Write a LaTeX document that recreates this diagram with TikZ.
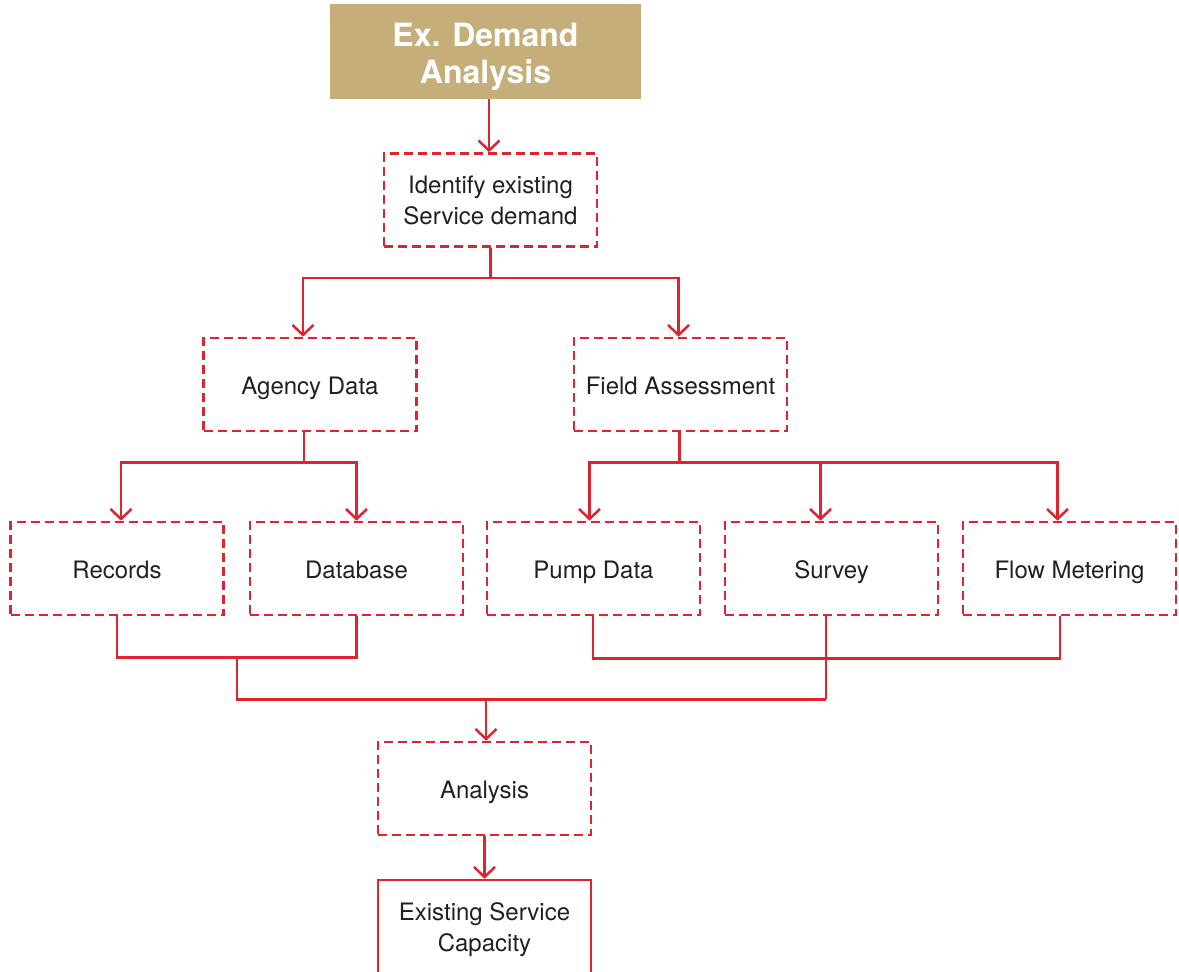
\documentclass[tikz,border=0pt]{standalone}
\usepackage{fontspec}
\setmainfont{TeX Gyre Heros}
\usetikzlibrary{arrows.meta,calc}
\definecolor{flowred}{HTML}{E0242F}
\definecolor{tan}{HTML}{C6AE7A}
\definecolor{txt}{HTML}{231F20}
\tikzset{
  box/.style={draw=flowred, line width=2.6pt, minimum width=213pt, minimum height=93pt,
    inner sep=0pt, align=center, text=txt, font=\fontsize{24}{31}\selectfont},
  dbox/.style={box, dash pattern=on 9pt off 5pt},
  oneline/.style={text height=20pt, text depth=0pt},
  ln/.style={draw=flowred, line width=2.5pt},
  arr/.style={ln, -{Straight Barb[length=10pt,width=21pt,line width=2.5pt]}},
}
\begin{document}
\begin{tikzpicture}[x=1pt,y=-1pt]
\useasboundingbox (0,0) rectangle (1179,972);
\node[fill=tan, minimum width=311pt, minimum height=95pt, inner sep=0pt] (top) at (485.5,51.5) {};
\node[align=center, inner sep=0pt, text=white, font=\bfseries\fontsize{32}{37}\selectfont]
  (toptext) at ([yshift=-5.5]top.center) {Ex. Demand\\Analysis};
\node[dbox] (ident) at (490.5,200) {Identify existing\\Service demand};
\node[dbox,oneline] (agency) at (310,384.5) {Agency Data};
\node[dbox,oneline] (field) at (680.5,384.5) {Field Assessment};
\node[dbox,oneline] (records) at (117,568.5) {Records};
\node[dbox,oneline] (database) at (356.5,568.5) {Database};
\node[dbox,oneline] (pump) at (593.5,568.5) {Pump Data};
\node[dbox,oneline] (survey) at (831.5,568.5) {Survey};
\node[dbox,oneline] (flow) at (1069.5,568.5) {Flow Metering};
\node[dbox,oneline] (analysis) at (484.5,788.5) {Analysis};
\node[box, minimum height=100pt] (result) at (484.5,930) {Existing Service\\Capacity};

\draw[arr] ([xshift=3.5]top.south) -- ([xshift=-1.5]ident.north);

\draw[ln] (ident.south) -- ++(0,30) coordinate (j1);
\draw[arr] (j1) -| ([xshift=-7]agency.north);
\draw[arr] (j1) -| ([xshift=-2]field.north);

\draw[ln] ([xshift=-6]agency.south) -- ++(0,30) coordinate (j2);
\draw[arr] (j2) -| ([xshift=4]records.north);
\draw[arr] (j2) -| (database.north);

\draw[ln] ([xshift=-1]field.south) -- ++(0,30) coordinate (j3);
\draw[arr] (j3) -| ([xshift=-4]pump.north);
\draw[arr] (j3) -| ([xshift=-11]survey.north);
\draw[arr] (j3) -| ([xshift=-12]flow.north);

\draw[ln] (records.south) -- ++(0,41) coordinate (r1) -| (database.south);
\coordinate (j4) at ($(records.south)!0.5!(database.south)+(0,41)$);
\draw[ln] ([xshift=-0.5]pump.south) -- ++(0,42) -| ([xshift=-9.5]flow.south);
\draw[ln] ([xshift=-5.5]survey.south) -- ++(0,83) coordinate (j5);
\draw[ln] (j4) |- (j5);
\draw[arr] ([xshift=1.5]analysis.north |- j5) -- ([xshift=1.5]analysis.north);
\draw[arr] (analysis.south) -- (result.north);
\end{tikzpicture}
\end{document}
